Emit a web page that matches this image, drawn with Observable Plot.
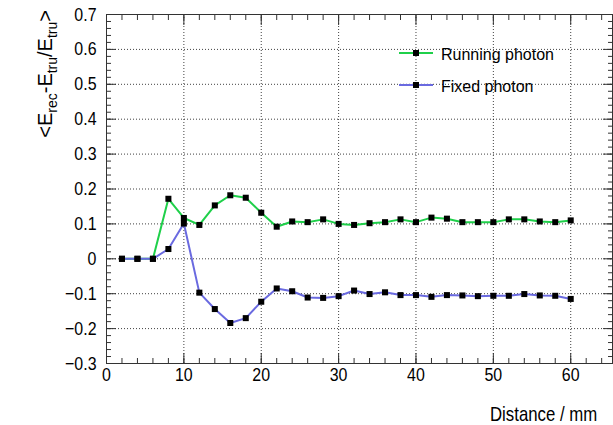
<!DOCTYPE html>
<html><head><meta charset="utf-8">
<script src="https://cdn.jsdelivr.net/npm/d3@7"></script>
<script src="https://cdn.jsdelivr.net/npm/@observablehq/plot@0.6"></script>
<style>html,body{margin:0;padding:0;background:#fff;overflow:hidden} #chart svg{display:block}</style>
</head><body><div id="chart"></div>
<script>
// ---- data ----
const distance = [2,4,6,8,10,12,14,16,18,20,22,24,26,28,30,32,34,36,38,40,42,44,46,48,50,52,54,56,58,60];
const running = [0,0,0,0.172,0.117,0.097,0.153,0.182,0.175,0.132,0.092,0.107,0.105,0.113,0.100,0.097,0.102,0.105,0.113,0.105,0.118,0.115,0.105,0.105,0.105,0.113,0.113,0.107,0.105,0.110];
const fixed = [0,0,0,0.028,0.101,-0.097,-0.144,-0.184,-0.170,-0.123,-0.085,-0.093,-0.111,-0.112,-0.107,-0.091,-0.101,-0.096,-0.104,-0.104,-0.109,-0.104,-0.105,-0.107,-0.106,-0.106,-0.101,-0.105,-0.106,-0.115];
const seriesNames = ["Running photon", "Fixed photon"];
const seriesColors = ["#1fd04a", "#6a6ae0"];
const xTicks = [0,10,20,30,40,50,60];
const xTickLabels = ["0","10","20","30","40","50","60"];
const yTicks = [-0.3,-0.2,-0.1,0,0.1,0.2,0.3,0.4,0.5,0.6,0.7];
const yTickLabels = ["\u22120.3","\u22120.2","\u22120.1","0","0.1","0.2","0.3","0.4","0.5","0.6","0.7"];
const xTitle = "Distance / mm";

const FONT = "'Liberation Sans', Arial, sans-serif";
const NARROW = 0.84;

const rows = [];
distance.forEach((d, i) => rows.push({d, v: running[i], s: seriesNames[0]}));
distance.forEach((d, i) => rows.push({d, v: fixed[i], s: seriesNames[1]}));

const xMinor = d3.range(0, 65.4, 2);
const yMinor = d3.range(-0.3, 0.7001, 0.02).map(v => +v.toFixed(2));
const xGrid = xTicks.filter(v => v > 0);
const yGrid = yTicks.filter(v => v > -0.3 && v < 0.7);

const tickOpts = {tickFormat: () => "", label: null, stroke: "#333"};

const plot = Plot.plot({
  width: 613,
  height: 425,
  marginLeft: 106,
  marginRight: 1,
  marginTop: 14,
  marginBottom: 62,
  style: {fontFamily: FONT, background: "white"},
  x: {domain: [0, 65.4]},
  y: {domain: [-0.3, 0.7]},
  color: {domain: seriesNames, range: seriesColors},
  marks: [
    Plot.gridX(xGrid, {stroke: "#000", strokeOpacity: 0.75, strokeDasharray: "1,2"}),
    Plot.gridY(yGrid, {stroke: "#000", strokeOpacity: 0.75, strokeDasharray: "1,2"}),
    Plot.line(rows, {x: "d", y: "v", z: "s", stroke: "s", strokeWidth: 2}),
    Plot.dot(rows, {x: "d", y: "v", symbol: "square", fill: "black", r: 3.4}),
    Plot.frame({stroke: "#333", strokeWidth: 1}),
    Plot.axisX(xTicks, {anchor: "bottom", tickSize: -10, ...tickOpts}),
    Plot.axisX(xTicks, {anchor: "top", tickSize: -10, ...tickOpts}),
    Plot.axisY(yTicks, {anchor: "left", tickSize: -10, ...tickOpts}),
    Plot.axisY(yTicks, {anchor: "right", tickSize: -10, ...tickOpts}),
    Plot.axisX(xMinor, {anchor: "bottom", tickSize: -5, ...tickOpts}),
    Plot.axisX(xMinor, {anchor: "top", tickSize: -5, ...tickOpts}),
    Plot.axisY(yMinor, {anchor: "left", tickSize: -5, ...tickOpts}),
    Plot.axisY(yMinor, {anchor: "right", tickSize: -5, ...tickOpts}),
    Plot.axisX(xTicks, {anchor: "bottom", tickSize: 0, tickPadding: 4, fontSize: 19, fill: "#000",
      tickFormat: d => xTickLabels[xTicks.indexOf(d)], label: null, className: "ticklab"}),
    Plot.axisY(yTicks, {anchor: "left", tickSize: 0, tickPadding: 10, fontSize: 19, fill: "#000",
      tickFormat: d => yTickLabels[yTicks.indexOf(d)], label: null, className: "ticklab"})
  ]
});

document.getElementById("chart").appendChild(plot);
const svg = d3.select(plot);

// narrow the axis tick labels horizontally (Helvetica-narrow look of the reference)
svg.selectAll("g[aria-label$='tick label'] text").each(function() {
  const t = this.getAttribute("transform") || "";
  this.setAttribute("transform", t + ` scale(${NARROW},1)`);
});

// x title
svg.append("text")
  .attr("transform", `translate(490,421) scale(${NARROW},1)`)
  .attr("text-anchor", "start")
  .style("font-family", FONT).style("font-size", "20px").attr("fill", "#000")
  .text(xTitle);

// y title with subscripts
const yt = svg.append("text")
  .attr("transform", "translate(52,10) rotate(-90)")
  .attr("text-anchor", "end")
  .style("font-family", FONT).style("font-size", "20px").attr("fill", "#000");
const parts = [["<E", 0], ["rec", 1], ["-E", 0], ["tru", 1], ["/E", 0], ["tru", 1], [">", 0]];
let prev = 0;
parts.forEach(([t, sub]) => {
  const shift = sub ? 5 : 0;
  yt.append("tspan").attr("dy", shift - prev).style("font-size", sub ? "14px" : "20px").text(t);
  prev = shift;
});

// legend
const lg = svg.append("g");
seriesNames.forEach((name, i) => {
  const y = 53 + i * 32;
  lg.append("path").attr("d", `M399,${y}H433`)
    .style("stroke", seriesColors[i]).style("stroke-width", "2").style("fill", "none");
  lg.append("rect").attr("x", 413).attr("y", y - 3).attr("width", 6).attr("height", 6).style("fill", "black");
  lg.append("text").attr("x", 441).attr("y", y + 7).attr("text-anchor", "start")
    .style("text-anchor", "start")
    .style("font-family", FONT).style("font-size", "16px").style("fill", "#000").text(name);
});
</script>
</body></html>
